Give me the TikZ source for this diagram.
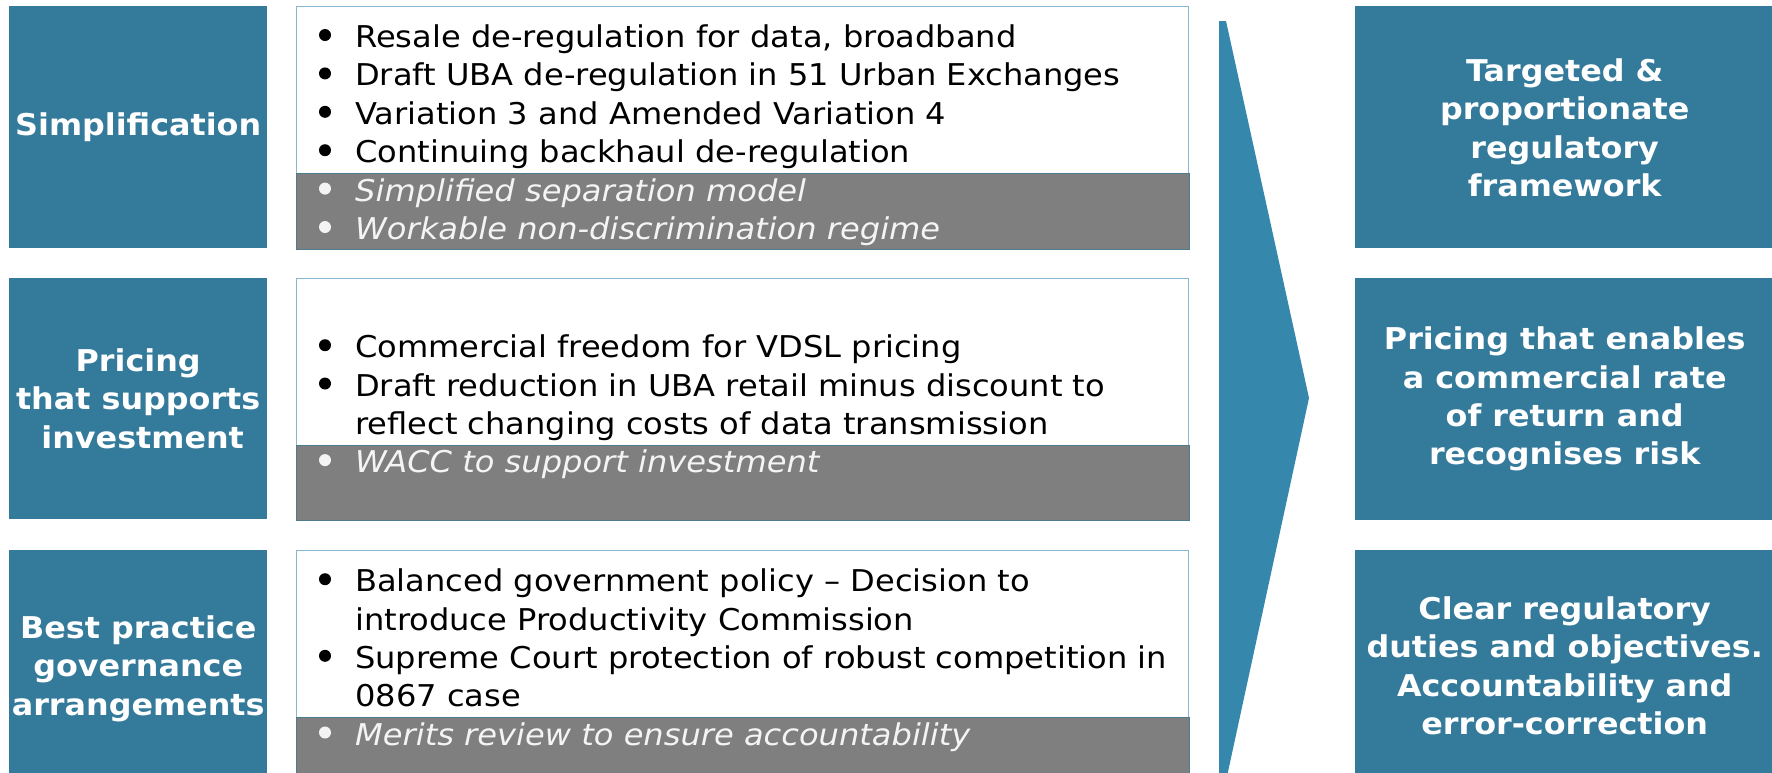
\documentclass[tikz,border=0pt]{standalone}
\usepackage{fontspec}
\setmainfont{DejaVu Sans}[FakeStretch=1.06]
\definecolor{boxblue}{HTML}{347A9A}
\definecolor{arrowblue}{HTML}{3587AB}
\definecolor{borderblue}{HTML}{86B8D0}
\definecolor{bandgray}{HTML}{7F7F7F}
\definecolor{bandedge}{HTML}{4F7B8F}
\definecolor{lighttext}{HTML}{F4F4F4}
\tikzset{
  bluebox/.style={fill=boxblue, draw=none, text=white, align=center, inner sep=0pt,
    anchor=north west, font=\bfseries\fontsize{30}{38.3}\selectfont},
  listbox/.style={fill=white, draw=borderblue, line width=1.3pt, inner sep=0pt, anchor=north west},
  band/.style={fill=bandgray, draw=bandedge, line width=1pt},
  itemtxt/.style={anchor=base west, inner sep=0pt, text=black, font=\fontsize{30}{38.3}\selectfont\addfontfeatures{FakeStretch=1.07}},
  grayitem/.style={anchor=base west, inner sep=0pt, text=lighttext, font=\itshape\fontsize{30}{38.3}\selectfont\addfontfeatures{FakeStretch=1.07}},
  blackdot/.style={fill=black},
  whitedot/.style={fill=lighttext},
}
\begin{document}
\begin{tikzpicture}[x=1pt,y=-1pt]
\useasboundingbox (0,0) rectangle (1772,772);
\clip (0,0) rectangle (1772,772);

% left boxes
\node[bluebox, minimum width=258pt, minimum height=242pt] (l1) at (9,6) {Simplification};
\node[bluebox, minimum width=258pt, minimum height=241pt] (l2) at (9,278) {Pricing\\that supports\\\hspace*{9pt}investment};
\node[bluebox, minimum width=258pt, minimum height=237pt] (l3) at (9,550) {Best practice\\governance\\arrangements};

% middle boxes
\node[listbox, minimum width=892pt, minimum height=242pt] (m1) at (296,6) {};
\node[listbox, minimum width=892pt, minimum height=241pt] (m2) at (296,278) {};
\node[listbox, minimum width=892pt, minimum height=240pt] (m3) at (296,550) {};
\path[band] (m1.west |- 0,173) rectangle (m1.south east);
\path[band] (m2.west |- 0,445) rectangle (m2.south east);
\path[band] (m3.west |- 0,717) rectangle (m3.south east);

% row 1 items
\fill[blackdot] (325,35) circle (6);
\node[itemtxt] (a1) at (355,47.5) {Resale de-regulation for data, broadband};
\fill[blackdot] (325,73.4) circle (6);
\node[itemtxt] (a2) at (355,85.9) {Draft UBA de-regulation in 51 Urban Exchanges};
\fill[blackdot] (325,111.8) circle (6);
\node[itemtxt] (a3) at (355,124.3) {Variation 3 and Amended Variation 4};
\fill[blackdot] (325,150.2) circle (6);
\node[itemtxt] (a4) at (355,162.7) {Continuing backhaul de-regulation};
\fill[whitedot] (325,188.6) circle (6);
\node[grayitem] (a5) at (355,201.1) {Simplified separation model};
\fill[whitedot] (325,227) circle (6);
\node[grayitem] (a6) at (355,239.5) {Workable non-discrimination regime};

% row 2 items
\fill[blackdot] (325,345.2) circle (6);
\node[itemtxt] (b1) at (355,357.7) {Commercial freedom for VDSL pricing};
\fill[blackdot] (325,383.5) circle (6);
\node[itemtxt] (b2) at (355,396) {Draft reduction in UBA retail minus discount to};
\node[itemtxt] (b3) at (355,434.3) {reflect changing costs of data transmission};
\fill[whitedot] (325,460.1) circle (6);
\node[grayitem] (b4) at (355,472.6) {WACC to support investment};

% row 3 items
\fill[blackdot] (325,579.2) circle (6);
\node[itemtxt] (c1) at (355,591.7) {Balanced government policy – Decision to};
\node[itemtxt] (c2) at (355,630) {introduce Productivity Commission};
\fill[blackdot] (325,655.8) circle (6);
\node[itemtxt] (c3) at (355,668.3) {Supreme Court protection of robust competition in};
\node[itemtxt] (c4) at (355,706.6) {0867 case};
\fill[whitedot] (325,732.5) circle (6);
\node[grayitem] (c5) at (355,745) {Merits review to ensure accountability};

% chevron arrow
\fill[arrowblue] (1219,21) -- (1226,21) -- (1309,398) -- (1226,781) -- (1219,781) -- cycle;

% right boxes
\node[bluebox, minimum width=419pt, minimum height=242pt] (r1) at (1355,6) {\rule{0pt}{24pt}Targeted \&\\proportionate\\regulatory\\framework};
\node[bluebox, minimum width=419pt, minimum height=242pt] (r2) at (1355,278) {Pricing that enables\\a commercial rate\\of return and\\recognises risk};
\node[bluebox, minimum width=419pt, minimum height=231pt] (r3) at (1355,550) {Clear regulatory\\duties and objectives.\\Accountability and\\error-correction};
\end{tikzpicture}
\end{document}
